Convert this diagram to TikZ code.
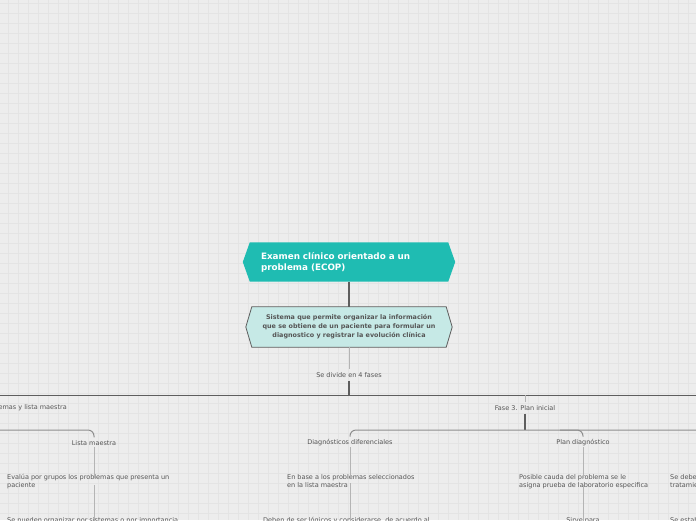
\documentclass[tikz,border=0pt]{standalone}
\usepackage{fontspec}
\setmainfont{DejaVu Sans}
\usetikzlibrary{backgrounds}
\definecolor{bgc}{HTML}{EDEDED}
\definecolor{gridc}{HTML}{E4E4E4}
\definecolor{teal1}{HTML}{1FBCB2}
\definecolor{teal2}{HTML}{C6E9E6}
\definecolor{txt}{HTML}{555555}
\definecolor{dark}{HTML}{5E5E5E}
\definecolor{light}{HTML}{B4B4B4}
\definecolor{mid}{HTML}{8E8E8E}
\tikzset{
  lbl/.style={font=\fontsize{6.5}{8}\selectfont, text=txt, inner sep=0pt, align=left},
  trunk/.style={draw=dark, line width=1.2pt},
  barline/.style={draw=dark, line width=0.9pt},
  twig/.style={draw=light, line width=1pt},
  branch/.style={draw=mid, line width=1pt, rounded corners=6pt},
}
\begin{document}
\begin{tikzpicture}[x=1pt,y=-1pt]
\useasboundingbox (0,0) rectangle (696,520);
% nodes
\node[font=\bfseries\fontsize{8.8}{11}\selectfont, text=white, text width=176pt, align=left,
      minimum width=212pt, minimum height=39pt, inner sep=0pt] (main) at (349,262)
  {Examen clínico orientado a un\\problema (ECOP)};
\node[font=\bfseries\fontsize{6.4}{9}\selectfont, text=txt, align=center,
      minimum width=206pt, minimum height=40pt, inner sep=0pt] (sub) at (349,327)
  {Sistema que permite organizar la información\\que se obtiene de un paciente para formular un\\diagnostico y registrar la evolución clínica};
\node[lbl, inner sep=3pt] (divide) at (349,375) {Se divide en 4 fases};
\node[lbl, anchor=east, inner sep=3pt] (f2) at (70,408) {Fase 2. Lista de problemas y lista maestra};
\node[lbl, inner sep=3pt] (f3) at (525,408) {Fase 3. Plan inicial};
\node[lbl, inner sep=3pt] (lm) at (94,443) {Lista maestra};
\node[lbl, inner sep=3pt] (dd) at (350,443) {Diagnósticos diferenciales};
\node[lbl, inner sep=3pt] (pd) at (583,443) {Plan diagnóstico};
\node[lbl, anchor=north west] (e1) at (7,474) {Evalúa por grupos los problemas que presenta un\\paciente};
\node[lbl, anchor=north west] (e2) at (287,474) {En base a los problemas seleccionados\\en la lista maestra};
\node[lbl, anchor=north west] (e3) at (519,474) {Posible cauda del problema se le\\asigna prueba de laboratorio especifica};
\node[lbl, anchor=north west] (e4) at (670,474) {Se debe establecer el\\tratamiento};
\node[lbl, anchor=north west] (g1) at (7,517.5) {Se pueden organizar por sistemas o por importancia};
\node[lbl, anchor=north west] (g2) at (263,517.5) {Deben de ser lógicos y considerarse, de acuerdo al};
\node[lbl, anchor=north] (g3) at (583,517.5) {Sirve para};
\node[lbl, anchor=north west] (g4) at (670,517.5) {Se establece};
% coordinates
\coordinate (bl) at (-5,395);
\coordinate (br) at (701,395);
\coordinate (bj) at (349,395);
\coordinate (fj) at (525,395);
\coordinate (f3b) at (525,430);
\coordinate (ll) at (-5,430);
\coordinate (rr) at (701,430);
\coordinate (pj) at (560,430);
\begin{scope}[on background layer]
  \fill[bgc] (0,0) rectangle (696,520);
  \foreach \i in {0,...,70} {\draw[gridc, line width=0.6pt] (\i*10+8.3,0) -- (\i*10+8.3,520);}
  \foreach \j in {0,...,52} {\draw[gridc, line width=0.6pt] (0,\j*10+3.3) -- (696,\j*10+3.3);}
  \fill[teal1] ([xshift=7pt]main.north west) -- ([xshift=-7pt]main.north east) -- (main.east)
     -- ([xshift=-7pt]main.south east) -- ([xshift=7pt]main.south west) -- (main.west) -- cycle;
  \filldraw[fill=teal2, draw=dark, line width=0.8pt] ([xshift=6pt]sub.north west) -- ([xshift=-6pt]sub.north east) -- (sub.east)
     -- ([xshift=-6pt]sub.south east) -- ([xshift=6pt]sub.south west) -- (sub.west) -- cycle;
\end{scope}
% connectors
\draw[trunk] (main.south) -- (sub.north);
\draw[twig, line width=0.8pt] (sub.south) -- (divide.north);
\draw[trunk] (divide.south) -- (bj);
\draw[barline] (bl) -- (br);
\draw[twig] (fj) -- (f3.north);
\draw[trunk] (f3.south) -- (f3b);
\draw[branch] (ll) -- (lm.north |- ll) -- (lm.north);
\draw[branch] (dd.north) |- (rr);
\draw[branch] (pj) -| (pd.north);
\draw[twig] ([yshift=2pt]lm.south) -- ([yshift=-4pt]lm.south |- e1.north);
\draw[twig] ([yshift=4pt]lm.south |- e1.south) -- ([yshift=-4pt]lm.south |- g1.north);
\draw[twig] ([yshift=2pt]dd.south) -- ([yshift=-4pt]dd.south |- e2.north);
\draw[twig] ([yshift=4pt]dd.south |- e2.south) -- ([yshift=-4pt]dd.south |- g2.north);
\draw[twig] ([yshift=2pt]pd.south) -- ([yshift=-4pt]pd.south |- e3.north);
\draw[twig] ([yshift=4pt]pd.south |- e3.south) -- ([yshift=-4pt]g3.north);
\end{tikzpicture}
\end{document}
